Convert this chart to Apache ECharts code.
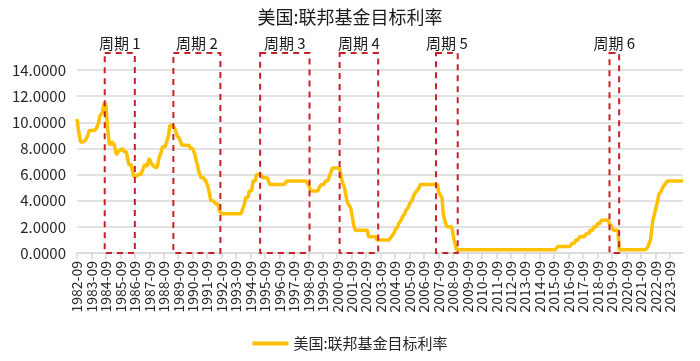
<!DOCTYPE html>
<html>
<head>
<meta charset="utf-8">
<script src="https://cdn.jsdelivr.net/npm/echarts@6/dist/echarts.min.js"></script>
<style>
html,body{margin:0;padding:0;background:#fff;}
#chart{width:700px;height:361px;}
</style>
</head>
<body>
<div id="chart"></div>
<script>
// Title and series name
var chartTitle = '美国:联邦基金目标利率';
var seriesName = '美国:联邦基金目标利率';

// Monthly categories 1982-09 .. 2024-08
var startYear = 1982, startMonth = 9, endYear = 2024, endMonth = 8;
var months = [];
(function () {
  var y = startYear, m = startMonth;
  while (y < endYear || (y === endYear && m <= endMonth)) {
    months.push(y + '-' + (m < 10 ? '0' + m : '' + m));
    m++; if (m > 12) { m = 1; y++; }
  }
})();

// Monthly target rate values (%)
var rate = [
  // 1982 Sep-Dec
  10.25, 9.5, 9.0, 8.5,
  // 1983
  8.5, 8.5, 8.5, 8.625, 8.75, 9.0, 9.375, 9.5, 9.375, 9.375, 9.375, 9.375,
  // 1984
  9.5, 9.5, 10.0, 10.5, 10.5, 10.75, 11.25, 11.5, 11.25, 10.0, 9.0, 8.25,
  // 1985
  8.25, 8.5, 8.5, 8.25, 7.75, 7.5, 7.75, 7.875, 7.875, 8.0, 8.0, 7.75,
  // 1986
  7.75, 7.75, 7.25, 6.75, 6.75, 6.75, 6.3125, 5.875, 5.875, 5.875, 5.875, 6.0,
  // 1987
  6.0, 6.0, 6.0, 6.5, 6.75, 6.75, 6.625, 6.75, 7.25, 7.0, 6.8125, 6.8125,
  // 1988
  6.625, 6.5, 6.5, 6.75, 7.25, 7.5, 7.75, 8.125, 8.125, 8.125, 8.375, 8.6875,
  // 1989
  9.0, 9.75, 9.75, 9.75, 9.8125, 9.5625, 9.3125, 9.0, 9.0, 8.75, 8.5, 8.25,
  // 1990
  8.25, 8.25, 8.25, 8.25, 8.25, 8.25, 8.0, 8.0, 8.0, 7.75, 7.5, 7.0,
  // 1991
  6.75, 6.25, 6.0, 5.75, 5.75, 5.75, 5.75, 5.5, 5.25, 5.0, 4.5, 4.0,
  // 1992
  4.0, 4.0, 4.0, 3.75, 3.75, 3.75, 3.25, 3.25, 3.0, 3.0, 3.0, 3.0,
  // 1993
  3.0, 3.0, 3.0, 3.0, 3.0, 3.0, 3.0, 3.0, 3.0, 3.0, 3.0, 3.0,
  // 1994
  3.0, 3.25, 3.5, 3.75, 4.25, 4.25, 4.25, 4.75, 4.75, 4.75, 5.5, 5.5,
  // 1995
  5.5, 6.0, 6.0, 6.0, 6.0, 6.0, 5.75, 5.75, 5.75, 5.75, 5.75, 5.5,
  // 1996
  5.25, 5.25, 5.25, 5.25, 5.25, 5.25, 5.25, 5.25, 5.25, 5.25, 5.25, 5.25,
  // 1997
  5.25, 5.25, 5.5, 5.5, 5.5, 5.5, 5.5, 5.5, 5.5, 5.5, 5.5, 5.5,
  // 1998
  5.5, 5.5, 5.5, 5.5, 5.5, 5.5, 5.5, 5.5, 5.25, 5.0, 4.75, 4.75,
  // 1999
  4.75, 4.75, 4.75, 4.75, 4.75, 5.0, 5.0, 5.25, 5.25, 5.25, 5.5, 5.5,
  // 2000
  5.5, 5.75, 6.0, 6.0, 6.5, 6.5, 6.5, 6.5, 6.5, 6.5, 6.5, 6.5,
  // 2001
  5.5, 5.5, 5.0, 4.5, 4.0, 3.75, 3.75, 3.5, 3.0, 2.5, 2.0, 1.75,
  // 2002
  1.75, 1.75, 1.75, 1.75, 1.75, 1.75, 1.75, 1.75, 1.75, 1.75, 1.25, 1.25,
  // 2003
  1.25, 1.25, 1.25, 1.25, 1.25, 1.0, 1.0, 1.0, 1.0, 1.0, 1.0, 1.0,
  // 2004
  1.0, 1.0, 1.0, 1.0, 1.0, 1.25, 1.25, 1.5, 1.75, 1.75, 2.0, 2.25,
  // 2005
  2.25, 2.5, 2.75, 2.75, 3.0, 3.25, 3.25, 3.5, 3.75, 3.75, 4.0, 4.25,
  // 2006
  4.5, 4.5, 4.75, 4.75, 5.0, 5.25, 5.25, 5.25, 5.25, 5.25, 5.25, 5.25,
  // 2007
  5.25, 5.25, 5.25, 5.25, 5.25, 5.25, 5.25, 5.25, 4.75, 4.5, 4.5, 4.25,
  // 2008
  3.0, 3.0, 2.25, 2.0, 2.0, 2.0, 2.0, 2.0, 2.0, 1.0, 1.0, 0.25,
  // 2009
  0.25, 0.25, 0.25, 0.25, 0.25, 0.25, 0.25, 0.25, 0.25, 0.25, 0.25, 0.25,
  // 2010
  0.25, 0.25, 0.25, 0.25, 0.25, 0.25, 0.25, 0.25, 0.25, 0.25, 0.25, 0.25,
  // 2011
  0.25, 0.25, 0.25, 0.25, 0.25, 0.25, 0.25, 0.25, 0.25, 0.25, 0.25, 0.25,
  // 2012
  0.25, 0.25, 0.25, 0.25, 0.25, 0.25, 0.25, 0.25, 0.25, 0.25, 0.25, 0.25,
  // 2013
  0.25, 0.25, 0.25, 0.25, 0.25, 0.25, 0.25, 0.25, 0.25, 0.25, 0.25, 0.25,
  // 2014
  0.25, 0.25, 0.25, 0.25, 0.25, 0.25, 0.25, 0.25, 0.25, 0.25, 0.25, 0.25,
  // 2015
  0.25, 0.25, 0.25, 0.25, 0.25, 0.25, 0.25, 0.25, 0.25, 0.25, 0.25, 0.5,
  // 2016
  0.5, 0.5, 0.5, 0.5, 0.5, 0.5, 0.5, 0.5, 0.5, 0.5, 0.5, 0.75,
  // 2017
  0.75, 0.75, 1.0, 1.0, 1.0, 1.25, 1.25, 1.25, 1.25, 1.25, 1.25, 1.5,
  // 2018
  1.5, 1.5, 1.75, 1.75, 1.75, 2.0, 2.0, 2.0, 2.25, 2.25, 2.25, 2.5,
  // 2019
  2.5, 2.5, 2.5, 2.5, 2.5, 2.5, 2.25, 2.25, 2.0, 1.75, 1.75, 1.75,
  // 2020
  1.75, 1.75, 0.25, 0.25, 0.25, 0.25, 0.25, 0.25, 0.25, 0.25, 0.25, 0.25,
  // 2021
  0.25, 0.25, 0.25, 0.25, 0.25, 0.25, 0.25, 0.25, 0.25, 0.25, 0.25, 0.25,
  // 2022
  0.25, 0.25, 0.5, 0.5, 1.0, 1.75, 2.5, 2.5, 3.25, 3.25, 4.0, 4.5,
  // 2023
  4.5, 4.75, 5.0, 5.0, 5.25, 5.25, 5.5, 5.5, 5.5, 5.5, 5.5, 5.5,
  // 2024 Jan-Aug
  5.5, 5.5, 5.5, 5.5, 5.5, 5.5, 5.5, 5.5
];

// Cycle annotations (start month, end month, label)
var cycleNames = ['周期 1', '周期 2', '周期 3', '周期 4', '周期 5', '周期 6'];
var cycleStart = ['1984-08', '1989-05', '1995-05', '2000-11', '2007-07', '2019-07'];
var cycleEnd   = ['1986-09', '1992-08', '1998-10', '2003-07', '2009-01', '2020-03'];
var cycleTop = 15.3;
var cycleBottom = 0;

// Y axis ticks
var yMin = 0, yMax = 14, yStep = 2;

var cycleData = cycleNames.map(function (n, i) {
  return [months.indexOf(cycleStart[i]), months.indexOf(cycleEnd[i]), cycleTop, cycleBottom];
});

var FONT = '"Noto Sans CJK SC", "Noto Sans", sans-serif';

function renderCycle(params, api) {
  var p1 = api.coord([api.value(0), api.value(2)]);
  var p2 = api.coord([api.value(1), api.value(3)]);
  return {
    type: 'group',
    children: [
      {
        type: 'rect',
        shape: { x: p1[0], y: p1[1], width: p2[0] - p1[0], height: p2[1] - p1[1] },
        style: { fill: null, stroke: '#C8202A', lineWidth: 2, lineDash: [6, 5] }
      },
      {
        type: 'text',
        x: (p1[0] + p2[0]) / 2,
        y: p1[1] - 2,
        style: {
          text: cycleNames[params.dataIndex],
          align: 'center',
          verticalAlign: 'bottom',
          font: 'normal 15px ' + FONT,
          fill: '#1a1a1a'
        }
      }
    ]
  };
}

var chart = echarts.init(document.getElementById('chart'), null, { renderer: 'canvas' });
chart.setOption({
  animation: false,
  backgroundColor: '#ffffff',
  title: {
    text: chartTitle,
    left: 'center',
    top: 3,
    textStyle: { fontFamily: FONT, fontSize: 18, fontWeight: 'normal', color: '#1a1a1a' }
  },
  legend: {
    data: [seriesName],
    left: 'center',
    top: 331,
    icon: 'rect',
    itemWidth: 36,
    itemHeight: 4,
    itemGap: 6,
    textStyle: { fontFamily: FONT, fontSize: 15, color: '#262626' }
  },
  grid: { left: 77, right: 17, top: 70, bottom: 108, containLabel: false },
  xAxis: {
    type: 'category',
    data: months,
    boundaryGap: false,
    axisLine: { lineStyle: { color: '#d9d9d9', width: 1.5 } },
    axisTick: { interval: 11, length: 6, lineStyle: { color: '#d9d9d9', width: 1.5 } },
    axisLabel: {
      interval: 11,
      rotate: 90,
      margin: 8,
      fontFamily: FONT,
      fontSize: 14,
      color: '#262626'
    },
    splitLine: { show: false }
  },
  yAxis: {
    type: 'value',
    min: yMin,
    max: yMax,
    interval: yStep,
    axisLine: { show: false },
    axisTick: { show: false },
    axisLabel: {
      margin: 11,
      fontFamily: FONT,
      fontSize: 15,
      color: '#262626',
      formatter: function (v) { return v.toFixed(4); }
    },
    splitLine: { lineStyle: { color: '#d9d9d9', width: 1.5 } }
  },
  series: [
    {
      name: seriesName,
      type: 'line',
      data: rate,
      symbol: 'none',
      lineStyle: { color: '#FFC000', width: 3.5 },
      itemStyle: { color: '#FFC000' },
      z: 3
    },
    {
      name: 'cycles',
      type: 'custom',
      data: cycleData,
      encode: { x: [0, 1], y: [2, 3] },
      renderItem: renderCycle,
      clip: false,
      silent: true,
      z: 4
    }
  ]
});
</script>
</body>
</html>
